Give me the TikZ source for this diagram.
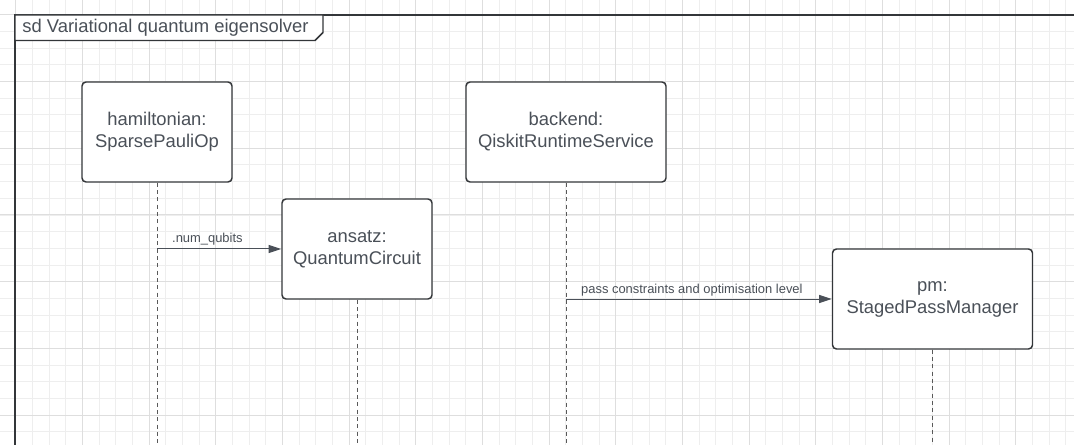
\documentclass[tikz,border=0pt]{standalone}
\usepackage{fontspec}
\setmainfont{Liberation Sans}
\usetikzlibrary{arrows.meta}

\definecolor{inkline}{HTML}{333639}
\definecolor{inktext}{HTML}{4A5058}
\definecolor{gridminor}{HTML}{EEEEEE}
\definecolor{gridmajor}{HTML}{DEDEDE}

\tikzset{
  objbox/.style = {draw=inkline, line width=1.1pt, rounded corners=3pt, fill=white,
                   text=inktext, align=center, inner sep=0pt,
                   font=\fontsize{13.8pt}{16.5pt}\selectfont},
  lifeline/.style = {draw=black!65, line width=0.75pt, dash pattern=on 3pt off 2.5pt},
  msg/.style = {draw=inktext, line width=0.75pt, -{Triangle[length=9.5pt,width=6pt]}},
  msglabel/.style = {text=inktext, inner sep=2pt, font=\fontsize{9.7pt}{11pt}\selectfont}
}

\begin{document}
\begin{tikzpicture}[x=0.75pt, y=-0.75pt]
  \useasboundingbox (0,0) rectangle (1074,445);
  \clip (0,0) rectangle (1074,445);
  \fill[white] (0,0) rectangle (1074,445);

  % grid
  \foreach \i in {0,...,65}
    \draw[gridminor, line width=0.75pt] (-1+16.667*\i,0) -- (-1+16.667*\i,445);
  \foreach \j in {0,...,27}
    \draw[gridminor, line width=0.75pt] (0,-1.67+16.667*\j) -- (1074,-1.67+16.667*\j);
  \foreach \i in {0,...,16}
    \draw[gridmajor, line width=0.75pt] (15.67+66.667*\i,0) -- (15.67+66.667*\i,445);
  \foreach \j in {0,...,6}
    \draw[gridmajor, line width=0.75pt] (0,15+66.667*\j) -- (1074,15+66.667*\j);

  % frame and its title tab
  \draw[inkline, line width=1.1pt] (15,460) -- (15,15) -- (1090,15);
  \draw[inkline, line width=1.1pt, fill=white] (15,15) -- (323,15) -- (323,32.5) -- (315,40.5) -- (15,40.5) -- cycle;
  \node[text=inktext, anchor=base west, inner sep=2pt, font=\fontsize{13.8pt}{16.5pt}\selectfont]
    (title) at (19.5,32.3) {sd Variational quantum eigensolver};

  % objects
  \node[objbox, minimum width=112.5pt, minimum height=75pt] (hamiltonian) at (157,132) {hamiltonian:\\SparsePauliOp};
  \node[objbox, minimum width=150pt, minimum height=75pt] (backend) at (566,132) {backend:\\QiskitRuntimeService};
  \node[objbox, minimum width=112.5pt, minimum height=75pt] (ansatz) at (357,249) {ansatz:\\QuantumCircuit};
  \node[objbox, minimum width=150pt, minimum height=75pt] (pm) at (932.5,299) {pm:\\StagedPassManager};

  % lifelines
  \coordinate (bottom) at (0,450);
  \foreach \obj in {hamiltonian, backend, ansatz, pm}
    \draw[lifeline] (\obj.south) -- (\obj.south |- bottom);

  % messages
  \draw[msg] (hamiltonian.south |- ansatz.west) -- (ansatz.west)
    node[msglabel, pos=0, anchor=base west, xshift=9pt, yshift=4.5pt] {.num\_qubits};
  \draw[msg] (backend.south |- pm.west) -- (pm.west)
    node[msglabel, pos=0, anchor=base west, xshift=9pt, yshift=4.5pt] {pass constraints and optimisation level};
\end{tikzpicture}
\end{document}
